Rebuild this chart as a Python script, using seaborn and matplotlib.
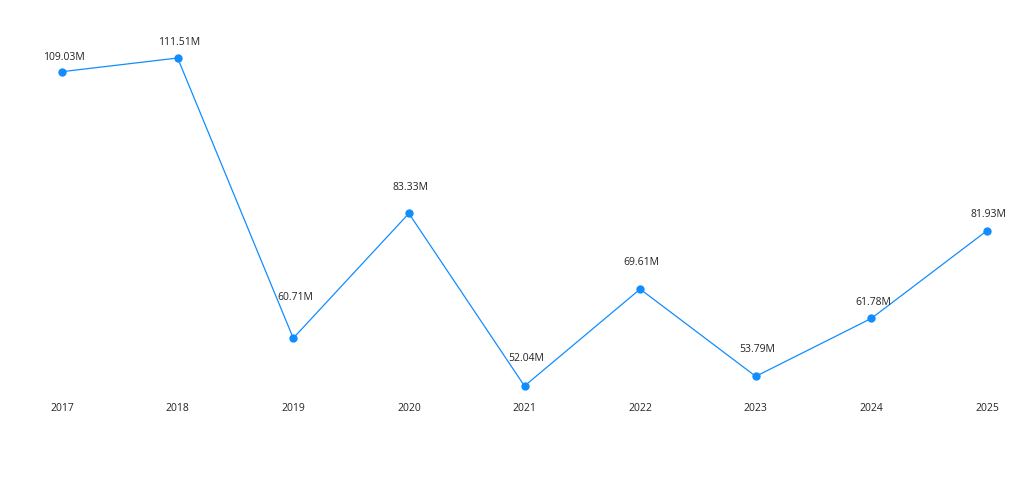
import pandas as pd
import matplotlib.pyplot as plt
import seaborn as sns

# chart data
years = ["2017", "2018", "2019", "2020", "2021", "2022", "2023", "2024", "2025"]
# point heights as drawn in the reference (the last two sit off their labels)
values = [109.03, 111.51, 60.71, 83.33, 52.04, 69.61, 53.79, 64.3, 80.2]
labels = ["109.03M", "111.51M", "60.71M", "83.33M", "52.04M", "69.61M", "53.79M", "61.78M", "81.93M"]

# label offsets above each point (points)
label_dy = [10, 11.5, 29.5, 19, 19.5, 19, 19.5, 11.5, 11.5]

df = pd.DataFrame({"year": years, "value": values, "pos": range(len(years))})

sns.set_style("white")
plt.rcParams["font.family"] = ["Open Sans", "DejaVu Sans"]

fig = plt.figure(figsize=(10.24, 5.03), dpi=100)
ax = fig.add_axes([62 / 1024, 1 - 386 / 503, (987 - 62) / 1024, (386 - 58) / 503])

blue = "#118DFF"
sns.lineplot(data=df, x="pos", y="value", ax=ax, color=blue, linewidth=0.9,
             marker="o", markersize=6, markeredgewidth=0, clip_on=False)

for i, (v, lab) in enumerate(zip(values, labels)):
    ax.annotate(lab, (i, v), xytext=(1.2, label_dy[i]), textcoords="offset points",
                ha="center", va="center", fontsize=7.5, color="#252423")

ax.set_xlim(0, len(years) - 1)
ax.set_ylim(52.04, 111.51)
ax.set_xticks(range(len(years)))
ax.set_xticklabels(years, fontsize=7.5, color="#252423")
ax.tick_params(axis="x", length=0, pad=12.5)
ax.set_yticks([])
ax.set_xlabel("")
ax.set_ylabel("")
sns.despine(ax=ax, left=True, bottom=True)

fig.savefig("out.png", dpi=100)
